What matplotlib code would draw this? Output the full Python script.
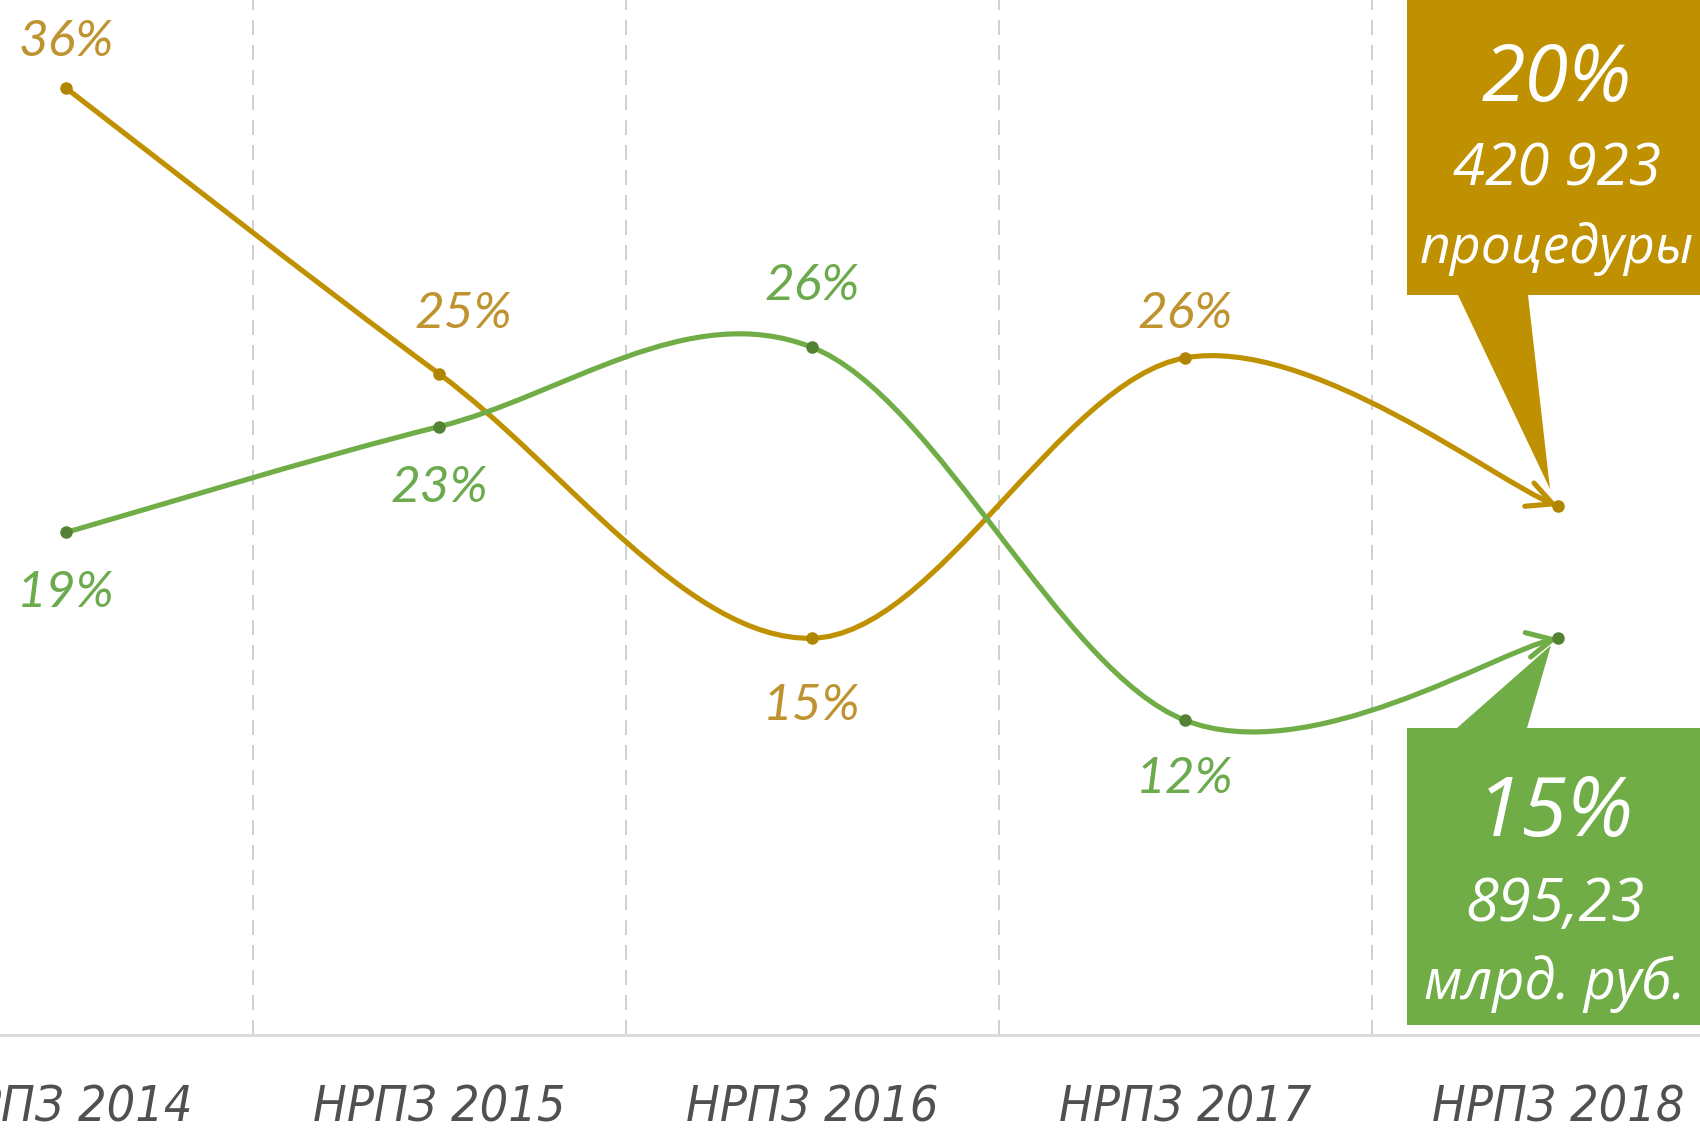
import numpy as np
import matplotlib
matplotlib.use("Agg")
import matplotlib.pyplot as plt
from matplotlib.path import Path
from matplotlib.patches import FancyArrowPatch, Polygon

categories = ["НРПЗ 2014", "НРПЗ 2015", "НРПЗ 2016", "НРПЗ 2017", "НРПЗ 2018"]
procedures = [35.8, 25, 15, 25.6, 20]   # доля процедур, %
amounts = [19, 23, 26, 11.9, 15]        # доля суммы, %
proc_labels = ["36%", "25%", "15%", "26%"]
amount_labels = ["19%", "23%", "26%", "12%"]
proc_box = ["20%", "420 923", "процедуры"]
amount_box = ["15%", "895,23", "млрд. руб."]

GOLD = "#BF9000"
GREEN = "#70AD47"
GOLD_TXT = "#BF9430"
GREEN_TXT = "#6CAA4E"

W, H = 1700, 1129
fig = plt.figure(figsize=(W / 100, H / 100), dpi=100)
ax = fig.add_axes([0, 1 - 1035 / H, 1, 1035 / H])
ax.set_xlim(-66 / 373, (W - 66) / 373)
ax.set_ylim(0, 1035 / 26.45)


def smooth(xs, ys):
    # Excel-like smoothed line: Catmull-Rom as cubic Bezier segments
    pts = np.column_stack([xs, ys]).astype(float)
    n = len(pts)
    verts, codes = [pts[0]], [Path.MOVETO]
    for i in range(n - 1):
        p0, p1 = pts[max(i - 1, 0)], pts[i]
        p2, p3 = pts[i + 1], pts[min(i + 2, n - 1)]
        verts += [p1 + (p2 - p0) / 6, p2 - (p3 - p1) / 6, p2]
        codes += [Path.CURVE4] * 3
    return Path(verts, codes)


x = np.arange(len(categories))
for vals, col, mcol in [(procedures, GOLD, "#B08500"), (amounts, GREEN, "#548235")]:
    arr = FancyArrowPatch(path=smooth(x, vals), arrowstyle="->,head_length=0.9,head_width=0.45",
                          mutation_scale=20, color=col, lw=3.7, zorder=3)
    ax.add_patch(arr)
    ax.plot(x, vals, "o", color=mcol, ms=8, zorder=4)

# data labels (offsets in pixels)
proc_off = [(0, 46), (24, 60), (0, -68), (0, 44)]
amount_off = [(0, -61), (0, -61), (0, 61), (0, -59)]
lab_font = dict(family="Lato", style="italic", fontsize=37)
for i, (t, off) in enumerate(zip(proc_labels, proc_off)):
    ax.annotate(t, (x[i], procedures[i]), xytext=off, textcoords="offset pixels",
                ha="center", va="center", color=GOLD_TXT, **lab_font)
for i, (t, off) in enumerate(zip(amount_labels, amount_off)):
    ax.annotate(t, (x[i], amounts[i]), xytext=off, textcoords="offset pixels",
                ha="center", va="center", color=GREEN_TXT, **lab_font)


def px2data(px, py):
    return (px - 66) / 373, (1035 - py) / 26.45


def callout(box, tail, tip, color):
    (x0, y0), (x1, y1) = px2data(*box[0]), px2data(*box[1])
    ta, tb = px2data(*tail[0]), px2data(*tail[1])
    if y0 > y1:   # box above the tip
        poly = [(x0, y0), (x1, y0), (x1, y1), tb, tip, ta, (x0, y1)]
    else:
        poly = [(x0, y1), ta, tip, tb, (x1, y1), (x1, y0), (x0, y0)]
    ax.add_patch(Polygon(poly, closed=True, color=color, lw=0, zorder=5, clip_on=False))


tip_g = (x[4] - 8 / 373, procedures[4] + 17 / 26.45)
tip_a = (x[4] - 7 / 373, amounts[4] - 7 / 26.45)
callout([(1407, -20), (1720, 295)], [(1458, 295), (1528, 295)], tip_g, GOLD)
callout([(1407, 1025), (1720, 728)], [(1457, 728), (1527, 728)], tip_a, GREEN)

box_font = dict(family="Open Sans", style="italic", color="white", ha="center", va="center", zorder=6)
for t, py, fs in zip(proc_box, [81, 170, 249], [57, 42, 38.5]):
    ax.text(*px2data(1557, py), t, fontsize=fs, **box_font)
for t, py, fs in zip(amount_box, [815, 905, 984], [60, 43, 40]):
    ax.text(*px2data(1555, py), t, fontsize=fs, **box_font)

# axes styling
ax.set_xticks(x, categories)
ax.tick_params(axis="x", length=0, pad=35, labelsize=36, labelcolor="#505050")
for lab in ax.get_xticklabels():
    lab.set_family("DejaVu Sans")
    lab.set_stretch("condensed")
    lab.set_style("oblique")
ax.set_xticks(x[:-1] + 0.5, minor=True)
ax.tick_params(axis="x", which="minor", length=0)
ax.grid(which="minor", axis="x", color="#C8C8C8", lw=1.2, ls=(0, (9, 6)))
ax.set_yticks([])
for s in ["top", "left", "right"]:
    ax.spines[s].set_visible(False)
ax.spines["bottom"].set_color("#D9D9D9")
ax.spines["bottom"].set_linewidth(2)

fig.savefig("out.png", dpi=100)
